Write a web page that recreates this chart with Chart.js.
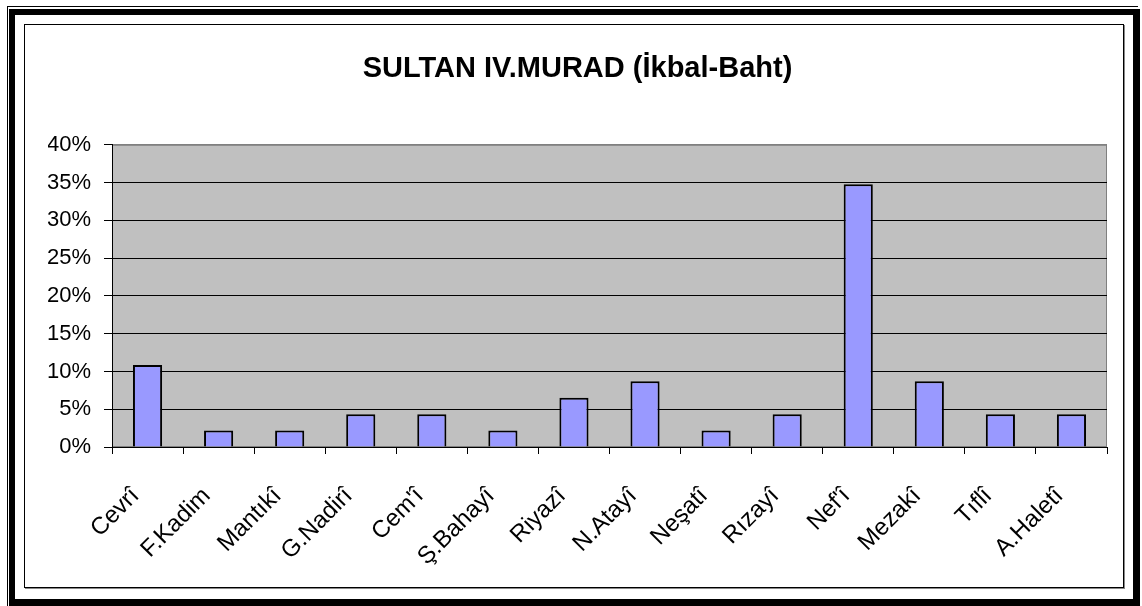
<!DOCTYPE html>
<html>
<head>
<meta charset="utf-8">
<script src="https://cdn.jsdelivr.net/npm/chart.js@4"></script>
<style>
  html, body { margin: 0; padding: 0; background: #fff; }
  #wrap { position: relative; width: 1142px; height: 606px; overflow: hidden; }
  .ln { position: absolute; background: #000; }
  #inner { position: absolute; left: 24px; top: 24px; width: 1098px; height: 562px;
           border: 1px solid #000; box-shadow: 1px 1px 0 #888; }
  canvas { position: absolute; left: 0; top: 0; }
</style>
</head>
<body>
<div id="wrap">
  <!-- thin outer line -->
  <div class="ln" style="left:7px;top:6px;width:1131px;height:1px"></div>
  <div class="ln" style="left:7px;top:6px;width:1px;height:600px"></div>
  <!-- thick frame -->
  <div class="ln" style="left:9px;top:9px;width:1131px;height:6px"></div>
  <div class="ln" style="left:9px;top:9px;width:6px;height:597px"></div>
  <div class="ln" style="left:1133px;top:9px;width:7px;height:597px"></div>
  <div class="ln" style="left:9px;top:599px;width:1131px;height:7px"></div>
  <div id="inner"></div>
  <canvas id="muradChart" width="1142" height="606"></canvas>
</div>
<script>
const labels = ["Cevrî", "F.Kadim", "Mantıkî", "G.Nadirî", "Cem'î", "Ş.Bahayî", "Riyazî",
                "N.Atayî", "Neşatî", "Rızayî", "Nef'î", "Mezakî", "Tıflî", "A.Haletî"];
const percentages = [10.87, 2.17, 2.17, 4.35, 4.35, 2.17, 6.52, 8.70, 2.17, 4.35, 34.78, 8.70, 4.35, 4.35];
const yTicks = [0, 5, 10, 15, 20, 25, 30, 35, 40];

const fontFamily = "'Liberation Sans', Arial, sans-serif";

// gray plot background + gray top/right border
const plotBg = {
  id: 'plotBg',
  beforeDraw(chart) {
    const a = chart.chartArea, ctx = chart.ctx;
    ctx.save();
    ctx.fillStyle = '#C0C0C0';
    ctx.fillRect(a.left, a.top, a.right - a.left, a.bottom - a.top);
    ctx.strokeStyle = '#808080';
    ctx.lineWidth = 1;
    ctx.strokeRect(a.left + 0.5, a.top + 0.5, a.right - a.left - 1, a.bottom - a.top - 1);
    ctx.restore();
  }
};

const muradChart = document.getElementById("muradChart").getContext("2d");
new Chart(muradChart, {
  type: "bar",
  data: {
    labels: labels,
    datasets: [
      {
        label: "",
        data: percentages,
        backgroundColor: "#9999FF",
        borderColor: "#000000",
        borderWidth: 2,
        categoryPercentage: 1,
        barPercentage: 0.41,
      },
    ],
  },
  options: {
    responsive: false,
    animation: false,
    // left padding pushes the title centre to match the original
    layout: { padding: { left: 48, right: 35, top: 0, bottom: 0 } },
    plugins: {
      legend: { display: false },
      tooltip: { enabled: false },
      title: {
        display: true,
        text: "SULTAN IV.MURAD (İkbal-Baht)",
        color: "#000",
        font: { family: fontFamily, size: 29, weight: "bold" },
        padding: { top: 52, bottom: 58 },
      },
    },
    scales: {
      x: {
        grid: { display: true, drawOnChartArea: false, drawTicks: true, tickLength: 7, color: "#000" },
        border: { display: true, color: "#000", width: 1 },
        ticks: {
          color: "#000",
          font: { family: fontFamily, size: 24 },
          minRotation: 45,
          maxRotation: 45,
          padding: 28,
          labelOffset: -12,
          autoSkip: false,
        },
        afterFit(scale) { scale.height = 159; },
      },
      y: {
        min: 0,
        max: 40,
        afterBuildTicks(scale) { scale.ticks = yTicks.map(v => ({ value: v })); },
        grid: {
          color: (c) => (c.tick && c.tick.value === 40 ? "#808080" : "#000"),
          lineWidth: 1,
          tickLength: 8,
          tickColor: "#000",
        },
        border: { display: true, color: "#000", width: 1 },
        ticks: {
          color: "#000",
          font: { family: fontFamily, size: 22 },
          padding: 13,
          callback: (v) => v + "%",
        },
        afterFit(scale) { scale.width = 64; },
      },
    },
  },
  plugins: [plotBg],
});
</script>
</body>
</html>
